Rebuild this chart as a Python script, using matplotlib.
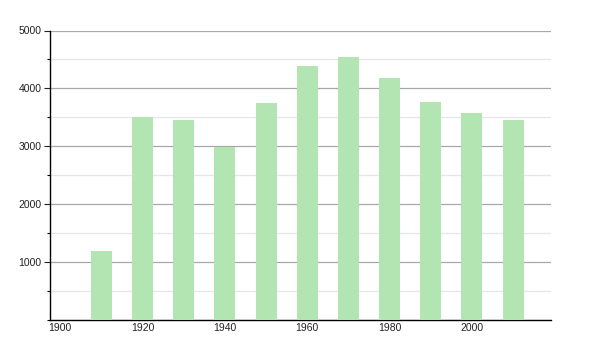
import matplotlib
matplotlib.use("Agg")
import matplotlib.pyplot as plt
from matplotlib.ticker import MultipleLocator

# population per census decade
years = [1910, 1920, 1930, 1940, 1950, 1960, 1970, 1980, 1990, 2000, 2010]
population = [1195, 3500, 3455, 2990, 3750, 4385, 4545, 4180, 3770, 3575, 3455]
xticks = [1900, 1920, 1940, 1960, 1980, 2000]
yticks = [1000, 2000, 3000, 4000, 5000]

plt.rcParams['font.family'] = ['Liberation Sans', 'DejaVu Sans']

fig = plt.figure(figsize=(6, 3.5), dpi=100)
ax = fig.add_axes([50/600, 30/350, 501/600, 289.5/350])

ax.bar(years, population, width=5.1, color='#b3e5b3', zorder=3)

ax.set_xlim(1897.5, 2019.2)
ax.set_ylim(0, 5000)
ax.set_xticks(xticks)
ax.set_yticks(yticks)
ax.yaxis.set_minor_locator(MultipleLocator(500))

ax.grid(axis='y', which='major', color='#a8a8a8', linewidth=0.9, zorder=1)
ax.grid(axis='y', which='minor', color='#e6e6e6', linewidth=0.9, zorder=1)

for s in ['top', 'right']:
    ax.spines[s].set_visible(False)
ax.spines['left'].set_linewidth(1.0)
ax.spines['bottom'].set_linewidth(1.0)

ax.tick_params(axis='x', length=0, pad=2, labelsize=7.5, colors='#222222')
ax.tick_params(axis='y', which='major', length=4, width=0.8, pad=2, labelsize=7.5, colors='#222222')
ax.tick_params(axis='y', which='minor', length=2.5, width=0.8)
ax.tick_params(axis='both', labelcolor='#222222')

fig.savefig('out.png', dpi=100)
